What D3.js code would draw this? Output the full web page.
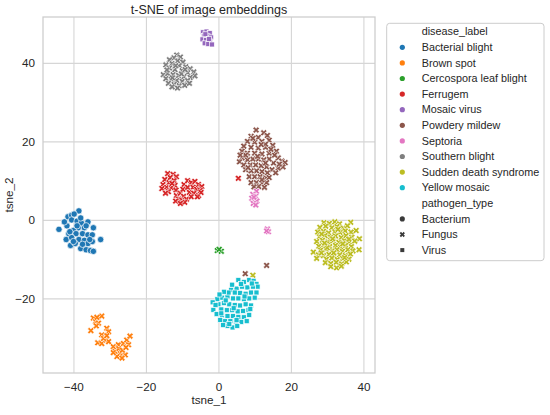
<!DOCTYPE html>
<html><head><meta charset="utf-8">
<script src="https://cdn.jsdelivr.net/npm/d3@7"></script>
<style>body{margin:0;background:#fff}svg{display:block}</style>
</head><body>
<svg id="c" width="550" height="415"></svg>
<script>
const categories = ["Bacterial blight","Brown spot","Cercospora leaf blight","Ferrugem","Mosaic virus","Powdery mildew","Septoria","Southern blight","Sudden death syndrome","Yellow mosaic"];
const colors = ["#1f77b4","#ff7f0e","#2ca02c","#d62728","#9467bd","#8c564b","#e377c2","#7f7f7f","#bcbd22","#17becf"];
const pathogenTypes = ["Bacterium","Fungus","Virus"];
const pathogenOf = ["Bacterium","Fungus","Fungus","Fungus","Virus","Fungus","Fungus","Fungus","Fungus","Virus"];
const xTicks = [-40,-20,0,20,40];
const yTicks = [-20,0,20,40];

const bacterialBlight = [[-44,-2.4],[-41.5,0.8],[-40.5,1.2],[-38.5,2.3],[-40.5,0],[-39,-0.3],[-37.8,-0.8],[-36,-0.5],[-34.5,-2],[-37,-2],[-38.7,-2],[-40,-2.7],[-41.3,-3.5],[-39.3,-3.5],[-37.5,-3.5],[-36,-3.8],[-34.8,-3.8],[-42,-5],[-40.5,-4.5],[-38.5,-5],[-37,-5.2],[-36,-6],[-34.8,-5.5],[-32.5,-5],[-40.8,-6.5],[-39.5,-6],[-38,-7.3],[-36.5,-7.6],[-35.3,-7.8],[-34.5,-8],[-40,-5.5],[-39,-1.5],[-36.5,-1.5],[-41.8,-1.5],[-42.5,-0.5],[-39.8,1.5],[-38,0.5],[-35.5,-5],[-37.5,-6.2],[-41,-3]];
const brownSpot = [[-34.5,-25.0],[-32.2,-24.5],[-33.9,-25.9],[-33.1,-26.3],[-35.2,-28.2],[-33.7,-27.0],[-32.2,-29.3],[-30.8,-27.6],[-30.3,-28.5],[-33.3,-31.3],[-32.2,-31.5],[-31.0,-30.6],[-30.3,-31.0],[-31.7,-30.2],[-29.0,-32.3],[-27.6,-31.8],[-26.2,-31.5],[-25.3,-30.6],[-24.4,-29.6],[-28.5,-33.5],[-27.1,-34.0],[-25.7,-34.4],[-28.0,-34.8],[-26.6,-35.2],[-24.8,-31.8],[-27.5,-32.8],[-26.5,-33.2],[-29,-33.8],[-25.5,-32.5],[-30.8,-29.5],[-33.5,-24.8]];
const cercospora = [[-0.3,-7.8],[0.8,-8.0],[0.2,-7.5]];
const ferrugem = [[-14,11.8],[-12.5,11.6],[-11.6,11],[-13.3,10.8],[-14.8,10.3],[-12.2,10],[-13.6,9.5],[-15.3,9],[-12,8.8],[-14.3,8.3],[-13,8.2],[-15.6,8],[-11.7,7.6],[-13.8,7.2],[-12.8,9.3],[-14.6,6.8],[-11.6,6.2],[-10.5,6.8],[-9.6,6],[-11,5.3],[-10,5],[-8.8,5.3],[-11.8,4.8],[-9.3,4.5],[-10.5,4.2],[-9.5,9],[-8.5,10],[-7.5,9.5],[-6.5,9.8],[-5.5,9],[-4.6,8.5],[-9.8,7.8],[-8.5,8.3],[-7,8.3],[-6,7.8],[-5,7.5],[-8,7],[-6.8,6.8],[-5.5,6.2],[-7.5,5.9],[-4.8,7],[-5.8,5.9],[5.5,10.6]];
const mosaicVirus = [[-4.3,47.8],[-3.3,48],[-2.4,47.6],[-4,46.9],[-3,46.8],[-2,46.5],[-4.4,46],[-3.4,45.8],[-2.3,45.5],[-3.8,45],[-2.8,44.8],[-1.8,44.7],[-3.6,47.3],[-2.6,46.1]];
const powderyMildew = [[10.4,22.9],[12.5,22.2],[13.5,21.5],[9,21.3],[11,21],[8,20],[10,19.8],[12,20],[14,20.3],[15,19],[7,18.8],[9,18.5],[11,18.3],[13,18.5],[6.5,17.5],[8,17],[10,17],[12,16.8],[14,17],[16,17.5],[16.5,15.8],[17.5,15],[18.4,14.6],[17.8,13.5],[16.5,13.2],[15.2,14.5],[14,15.5],[12.5,15.3],[11,15.5],[9.5,15.5],[8,15.3],[6.5,15.8],[5.8,14.8],[7,14],[8.8,14],[10.3,14],[11.8,13.8],[13.3,13.5],[14.8,12.8],[15.8,12],[13.5,12],[12,12.3],[10.5,12.5],[9,12.5],[7.5,12.8],[8.5,11],[10,11],[11.5,11],[13,10.7],[14,10.8],[9,9.5],[10.5,9.5],[12,9.3],[13.3,9.5],[11.1,8.5],[9.8,8.4],[12.7,8.3],[7.5,16.5],[13,19.3],[11.8,19.2],[9.5,20.8],[6,16.5],[15.5,16.5],[14.5,18],[10.8,16.2],[13,14.5],[12,10.2],[8.2,13.3],[16.8,14.2],[7.4,-13.7],[13.3,-11.6]];
const septoria = [[10.5,7.3],[9.5,6.5],[10.3,6],[9.2,5.5],[10,5],[10.6,4.8],[9.6,4.2],[10.3,3.8],[9.8,5.8],[13.5,-2.3],[13.8,-3],[13.3,-2.8]];
const southernBlight = [[-11.5,42],[-12.3,41.3],[-10.5,41.5],[-13.5,40.8],[-11.2,40.5],[-9.8,40.2],[-12.8,39.8],[-14.5,39.5],[-10.8,39.3],[-9,39],[-7.8,38.5],[-13.5,38.7],[-12,38.3],[-10,38],[-8.5,37.5],[-6.8,37.7],[-6.5,36.7],[-15.2,37],[-14,37.3],[-12.5,37],[-11,36.8],[-9.5,36.5],[-7.8,36.3],[-14.5,36],[-13,35.8],[-11.5,35.5],[-10,35.3],[-8.5,35.5],[-13.8,34.8],[-12.2,34.5],[-10.8,34.2],[-9.3,34.3],[-11.3,33.6],[-12.8,33.9],[-8,34.8],[-10.2,37.2],[-12.7,36.2],[-9.2,38.3],[-11.8,39.3],[-14.2,38.2]];
const suddenDeath = [[29.1,-0.7],[30.6,-0.9],[32.1,-0.5],[33.4,-1.0],[36.5,-0.6],[28.0,-1.9],[29.6,-1.6],[31.3,-2.0],[32.7,-1.7],[34.4,-2.1],[35.6,-1.5],[27.4,-3.1],[29.0,-2.9],[30.4,-3.3],[32.1,-3.0],[33.6,-3.2],[35.0,-2.8],[36.6,-3.1],[38.0,-2.7],[27.9,-4.3],[29.4,-4.0],[30.9,-4.4],[32.3,-4.1],[33.9,-4.5],[35.2,-4.0],[36.8,-4.4],[38.9,-4.8],[27.1,-5.5],[28.7,-5.2],[30.2,-5.6],[31.6,-5.3],[33.2,-5.7],[34.8,-5.3],[36.1,-5.6],[37.6,-5.4],[27.7,-6.7],[29.1,-6.4],[30.7,-6.8],[32.3,-6.5],[33.7,-6.9],[35.1,-6.5],[36.7,-6.8],[26.2,-8.2],[28.2,-7.7],[29.7,-7.5],[31.3,-7.9],[32.7,-7.6],[34.2,-8.0],[35.7,-7.6],[37.1,-7.9],[38.8,-7.6],[27.6,-8.9],[29.0,-9.1],[30.5,-8.8],[32.0,-9.2],[33.5,-8.9],[35.0,-9.1],[36.4,-8.7],[27.1,-9.8],[29.8,-10.0],[31.3,-9.7],[32.8,-10.1],[34.3,-9.8],[36.0,-10.0],[29.5,-10.9],[31.0,-11.1],[32.5,-10.8],[34.0,-11.2],[35.3,-10.7],[31.0,-11.9],[32.6,-12.2],[33.9,-11.8],[28.5,-3.6],[31.5,-4.8],[34.3,-6.1],[30.0,-7.1],[33.0,-2.4],[36.0,-4.9],[31.8,-8.4],[29.3,-5.9],[34.8,-9.6],[28.4,-8.4],[9.5,-14.1]];
const yellowMosaic = [[5.5,-15.3],[7,-15.8],[8.5,-15.3],[9.7,-15.5],[10.5,-16.3],[10.8,-17],[9.5,-17],[8,-17.2],[6.5,-17],[5,-17.5],[3.5,-17.8],[4.5,-18.5],[6,-18.6],[7.5,-18.8],[9,-18.5],[10.5,-18.5],[10,-19.8],[8.5,-20],[7,-20.2],[5.5,-20],[4,-20],[2.5,-19.5],[1,-19.8],[-0.3,-20.2],[-1.6,-21],[0,-21.5],[1.5,-21.2],[3,-21.5],[4.5,-21.7],[6,-21.8],[7.5,-21.5],[9,-21.8],[8.3,-23],[6.8,-23.2],[5.3,-23.3],[3.8,-23],[2.3,-23],[0.8,-22.8],[-1.4,-22.9],[-0.5,-24],[1,-24.3],[2.5,-24.5],[4,-24.5],[5.5,-24.7],[7,-24.8],[6.3,-26],[4.8,-26],[3.3,-25.8],[1.8,-25.8],[0.5,-25.5],[2.5,-27],[3.9,-27.4],[5.2,-27],[1.3,-26.8],[8.5,-24.2],[7.8,-25.8],[2.8,-18.5],[1.5,-18.3],[0.3,-19],[3.8,-16.5],[6.2,-16.3],[9.2,-16.2],[0.8,-23.8],[4.2,-22.5],[7.2,-19.5],[8.8,-22.7],[-0.8,-21.7],[2,-20.5],[5,-25.5],[3,-26.5]];

const pointsByCategory = [bacterialBlight, brownSpot, cercospora, ferrugem, mosaicVirus, powderyMildew, septoria, southernBlight, suddenDeath, yellowMosaic];

const svg = d3.select("#c");
const L = 43, R = 375, T = 17, B = 373;
const x = d3.scaleLinear().domain([-48.4, 43.2]).range([L, R]);
const y = d3.scaleLinear().domain([-39.0, 51.7]).range([B, T]);
const color = d3.scaleOrdinal().domain(categories).range(colors);
const font = "'Liberation Sans', Arial, sans-serif";
const fmt = d => (d < 0 ? "\u2212" + Math.abs(d) : "" + d);

const gx = svg.append("g").attr("transform", `translate(0,${B})`)
  .call(d3.axisBottom(x).tickValues(xTicks).tickSize(-(B - T)).tickPadding(9.5).tickFormat(fmt));
const gy = svg.append("g").attr("transform", `translate(${L},0)`)
  .call(d3.axisLeft(y).tickValues(yTicks).tickSize(-(R - L)).tickPadding(8).tickFormat(fmt));
[gx, gy].forEach(g => {
  g.select(".domain").remove();
  g.selectAll(".tick line").attr("stroke", "#d6d6d6").attr("stroke-width", 1.1);
  g.selectAll(".tick text").attr("fill", "#262626").style("font-family", font).style("font-size", "11.7px");
});
svg.append("rect").attr("x", L).attr("y", T).attr("width", R - L).attr("height", B - T)
  .attr("fill", "none").attr("stroke", "#cccccc").attr("stroke-width", 1.25);

function xPathD(a, b) {
  const v = [[-b,-a],[b,-a],[b,-b],[a,-b],[a,b],[b,b],[b,a],[-b,a],[-b,b],[-a,b],[-a,-b],[-b,-b]];
  return "M" + v.map(p => p.join(",")).join("L") + "Z";
}
function drawMarker(g, type, cx, cy, fill, scale, stroke) {
  if (type === "Bacterium") {
    g.append("circle").attr("cx", cx).attr("cy", cy).attr("r", 3.2 * scale)
      .attr("fill", fill).attr("stroke", stroke).attr("stroke-width", 0.7);
  } else if (type === "Fungus") {
    g.append("path").attr("d", xPathD(3.5 * scale, 1.15 * scale))
      .attr("transform", `translate(${cx},${cy}) rotate(45)`)
      .attr("fill", fill).attr("stroke", stroke).attr("stroke-width", 0.6);
  } else {
    const s = 5.0 * scale;
    g.append("rect").attr("x", cx - s / 2).attr("y", cy - s / 2).attr("width", s).attr("height", s)
      .attr("fill", fill).attr("stroke", stroke).attr("stroke-width", 0.7);
  }
}

const gp = svg.append("g");
categories.forEach((c, i) => {
  pointsByCategory[i].forEach(p => {
    drawMarker(gp, pathogenOf[i], x(p[0]), y(p[1]), color(c), 1, "#ffffff");
  });
});

svg.append("text").attr("x", (L + R) / 2).attr("y", 14).attr("text-anchor", "middle")
  .attr("fill", "#262626").style("font-family", font).style("font-size", "12.5px").text("t-SNE of image embeddings");
svg.append("text").attr("x", (L + R) / 2).attr("y", 404).attr("text-anchor", "middle")
  .attr("fill", "#262626").style("font-family", font).style("font-size", "11.7px").text("tsne_1");
svg.append("text").attr("transform", `translate(13,${(T + B) / 2}) rotate(-90)`).attr("text-anchor", "middle")
  .attr("fill", "#262626").style("font-family", font).style("font-size", "11.7px").text("tsne_2");

const lg = svg.append("g");
lg.append("rect").attr("x", 386.7).attr("y", 23.3).attr("width", 157.3).attr("height", 237.4)
  .attr("rx", 3).attr("fill", "#ffffff").attr("stroke", "#cccccc").attr("stroke-width", 1);
const rows = [{label: "disease_label"}]
  .concat(categories.map(c => ({label: c, kind: "color", v: c})))
  .concat([{label: "pathogen_type"}])
  .concat(pathogenTypes.map(p => ({label: p, kind: "shape", v: p})));
rows.forEach((r, i) => {
  const cy = 31.7 + i * 15.6;
  lg.append("text").attr("x", 421.7).attr("y", cy).attr("dy", "0.35em").attr("fill", "#262626")
    .style("font-family", font).style("font-size", "10.8px").text(r.label);
  if (r.kind === "color") {
    lg.append("circle").attr("cx", 402.3).attr("cy", cy).attr("r", 2.6).attr("fill", color(r.v));
  } else if (r.kind === "shape") {
    drawMarker(lg, r.v, 402.3, cy, "#3a3a3a", 0.8, "none");
  }
});
</script>
</body></html>
